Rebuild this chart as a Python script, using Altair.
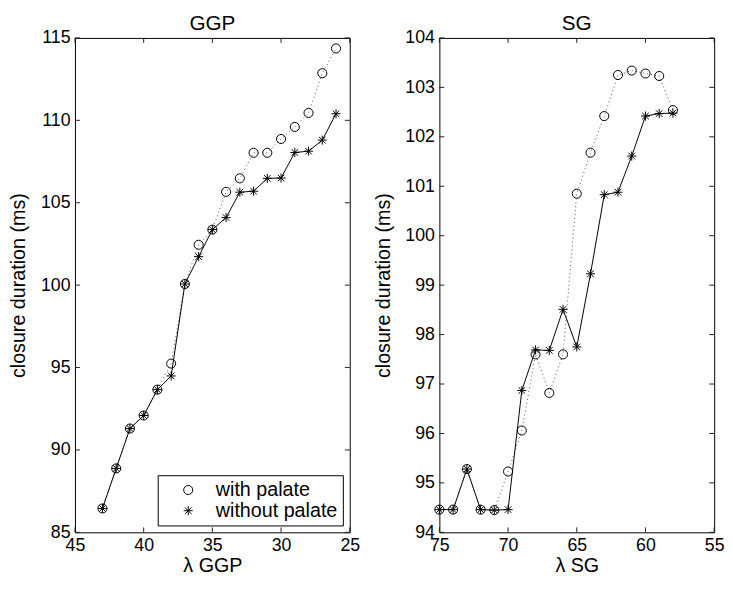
import altair as alt
import pandas as pd

# ---------------- data ----------------
ggp_lambda = [43, 42, 41, 40, 39, 38, 37, 36, 35, 34, 33, 32, 31, 30, 29, 28, 27, 26]
ggp_with = [86.45, 88.88, 91.30, 92.09, 93.66, 95.24, 100.07, 102.45, 103.37, 105.66,
            106.48, 108.03, 108.03, 108.87, 109.60, 110.45, 112.86, 114.36]
ggp_without = [86.45, 88.88, 91.30, 92.09, 93.66, 94.49, 100.07, 101.73, 103.37, 104.10,
               105.64, 105.70, 106.48, 106.50, 108.05, 108.13, 108.80, 110.40]

sg_lambda = [75, 74, 73, 72, 71, 70, 69, 68, 67, 66, 65, 64, 63, 62, 61, 60, 59, 58]
sg_with = [94.46, 94.46, 95.28, 94.46, 94.45, 95.23, 96.06, 97.60, 96.82, 97.60,
           100.85, 101.68, 102.42, 103.25, 103.34, 103.28, 103.23, 102.54]
sg_without = [94.46, 94.46, 95.28, 94.46, 94.45, 94.46, 96.87, 97.69, 97.68, 98.51,
              97.75, 99.23, 100.83, 100.88, 101.61, 102.42, 102.47, 102.48]

series_names = ["with palate", "without palate"]

ggp_xticks = [45, 40, 35, 30, 25]
ggp_yticks = [85, 90, 95, 100, 105, 110, 115]
sg_xticks = [75, 70, 65, 60, 55]
sg_yticks = [94, 95, 96, 97, 98, 99, 100, 101, 102, 103, 104]

W, H = 279, 502
FONT = "Liberation Sans"
ASTERISK = ("M0,-1L0,1M-1,0L1,0M-0.72,-0.72L0.72,0.72M-0.72,0.72L0.72,-0.72")


def long_df(lam, w, wo):
    rows = []
    for l, a, b in zip(lam, w, wo):
        rows.append({"lam": l, "val": a, "series": series_names[0]})
        rows.append({"lam": l, "val": b, "series": series_names[1]})
    return pd.DataFrame(rows)


def panel(title, xtitle, lam, w, wo, xdom, ydom, xticks, yticks, show_legend):
    df = long_df(lam, w, wo)
    xs = alt.Scale(domain=xdom, reverse=True, nice=False, zero=False)
    ys = alt.Scale(domain=ydom, nice=False, zero=False)
    xenc = alt.X("lam:Q", scale=xs, title=xtitle,
                 axis=alt.Axis(values=xticks, ticks=False, domain=False, grid=False,
                               labelPadding=4, titlePadding=2, labelFlush=False))
    yenc = alt.Y("val:Q", scale=ys, title="closure duration (ms)",
                 axis=alt.Axis(values=yticks, ticks=False, domain=False, grid=False,
                               labelPadding=5, titlePadding=12, labelFlush=False))
    base = alt.Chart(df)
    line_with = base.transform_filter(alt.datum.series == series_names[0]).mark_line(
        color="#555555", strokeWidth=1, strokeDash=[1, 3]
    ).encode(x=xenc, y=yenc)
    line_without = base.transform_filter(alt.datum.series == series_names[1]).mark_line(
        color="black", strokeWidth=1
    ).encode(x=xenc, y=yenc)
    if show_legend:
        leg = alt.Legend(title=None, orient="bottom-right", offset=7)
    else:
        leg = None
    pts = base.mark_point(filled=False, strokeWidth=1, color="black", size=85, opacity=1).encode(
        x=xenc, y=yenc,
        shape=alt.Shape("series:N", scale=alt.Scale(domain=series_names, range=["circle", ASTERISK]),
                        legend=leg),
    )
    xt = pd.DataFrame({"t": xticks})
    yt = pd.DataFrame({"t": yticks})
    tick_col = "#222222"
    xt_top = alt.Chart(xt).mark_rule(color=tick_col, strokeWidth=1).encode(
        x=alt.X("t:Q", scale=xs), y=alt.value(0), y2=alt.value(5))
    xt_bot = alt.Chart(xt).mark_rule(color=tick_col, strokeWidth=1).encode(
        x=alt.X("t:Q", scale=xs), y=alt.value(H - 5), y2=alt.value(H))
    yt_l = alt.Chart(yt).mark_rule(color=tick_col, strokeWidth=1).encode(
        y=alt.Y("t:Q", scale=ys), x=alt.value(0), x2=alt.value(5))
    yt_r = alt.Chart(yt).mark_rule(color=tick_col, strokeWidth=1).encode(
        y=alt.Y("t:Q", scale=ys), x=alt.value(W - 5), x2=alt.value(W))
    return alt.layer(xt_top, xt_bot, yt_l, yt_r, line_with, line_without, pts).properties(
        width=W, height=H,
        title=alt.TitleParams(title, fontSize=21, font=FONT, fontWeight="normal", offset=-5, color="black"),
    )


left = panel("GGP", "λ GGP", ggp_lambda, ggp_with, ggp_without, [25, 45], [85, 115],
             ggp_xticks, ggp_yticks, True)
right = panel("SG", "λ SG", sg_lambda, sg_with, sg_without, [55, 75], [94, 104],
              sg_xticks, sg_yticks, False)

chart = alt.hconcat(left, right, spacing=12).resolve_scale(
    shape="independent", x="independent", y="independent"
).resolve_legend(shape="independent").properties(
    padding={"left": 0, "right": 0, "top": 0, "bottom": 0}
).configure_view(
    stroke="black", strokeWidth=1
).configure_axis(
    labelFont=FONT, titleFont=FONT, labelFontSize=18, titleFontSize=20,
    labelColor="black", titleColor="black", titleFontWeight="normal"
).configure_legend(
    labelFont=FONT, labelFontSize=20, labelColor="black",
    strokeColor="black", fillColor="white", padding=5, rowPadding=1,
    symbolOffset=16, labelOffset=18, symbolStrokeColor="black", symbolStrokeWidth=1,
    symbolSize=85, cornerRadius=0
)

chart.save("out.html", embed_options={"renderer": "svg", "actions": False})
